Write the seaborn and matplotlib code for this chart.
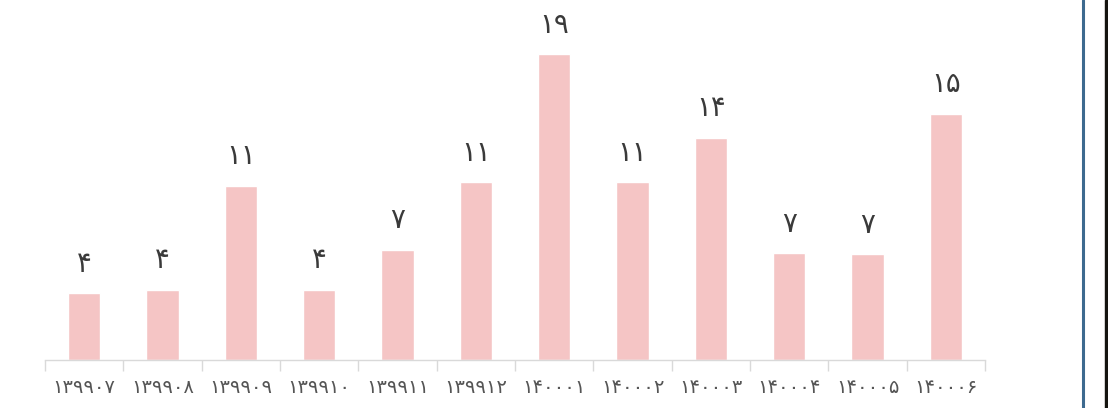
import numpy as np
import pandas as pd
import matplotlib.pyplot as plt
import seaborn as sns
from matplotlib.lines import Line2D

# month codes (Persian digits) and counts
months = ["۱۳۹۹۰۷", "۱۳۹۹۰۸", "۱۳۹۹۰۹", "۱۳۹۹۱۰", "۱۳۹۹۱۱", "۱۳۹۹۱۲",
          "۱۴۰۰۰۱", "۱۴۰۰۰۲", "۱۴۰۰۰۳", "۱۴۰۰۰۴", "۱۴۰۰۰۵", "۱۴۰۰۰۶"]
counts = [4.2, 4.4, 10.9, 4.4, 6.9, 11.1, 19.1, 11.1, 13.9, 6.7, 6.6, 15.4]

fa_digits = str.maketrans("0123456789", "۰۱۲۳۴۵۶۷۸۹")

df = pd.DataFrame({"month": months, "count": counts})

sns.set_theme(style="white")
plt.rcParams["font.family"] = ["DejaVu Sans"]

fig = plt.figure(figsize=(11.08, 4.08), dpi=100)
ax = fig.add_axes([45 / 1108, 48 / 408, 940 / 1108, 360 / 408])

sns.barplot(data=df, x="month", y="count", color="#f5c5c5", width=0.41,
            saturation=1, ax=ax)

for i, v in enumerate(counts):
    ax.text(i, v + 0.95, str(int(round(v))).translate(fa_digits),
            ha="center", va="bottom", fontsize=20, color="#3a3a3a")

ax.set_ylim(0, 22.5)
ax.set_xlim(-0.5, len(months) - 0.5)
ax.set_xlabel("")
ax.set_ylabel("")
ax.set_yticks([])

for s in ["top", "right", "left"]:
    ax.spines[s].set_visible(False)
ax.spines["bottom"].set_color("#d9d9d9")
ax.spines["bottom"].set_linewidth(1)

ax.set_xticks(range(len(months)))
ax.set_xticklabels(months, fontsize=14, color="#555555")
ax.tick_params(axis="x", which="major", length=0, pad=13)
ax.set_xticks(np.arange(-0.5, len(months), 1), minor=True)
ax.tick_params(axis="x", which="minor", length=8, width=1, color="#d9d9d9",
               bottom=True)

# slide frame on the right
fig.add_artist(Line2D([1083 / 1108, 1083 / 1108], [0, 1], color="#3d6a8f",
                      lw=2.2, transform=fig.transFigure))
fig.add_artist(plt.Rectangle((1105 / 1108, 0), 3 / 1108, 1, color="#15140f",
                             transform=fig.transFigure))

fig.savefig("out.png", dpi=100)
